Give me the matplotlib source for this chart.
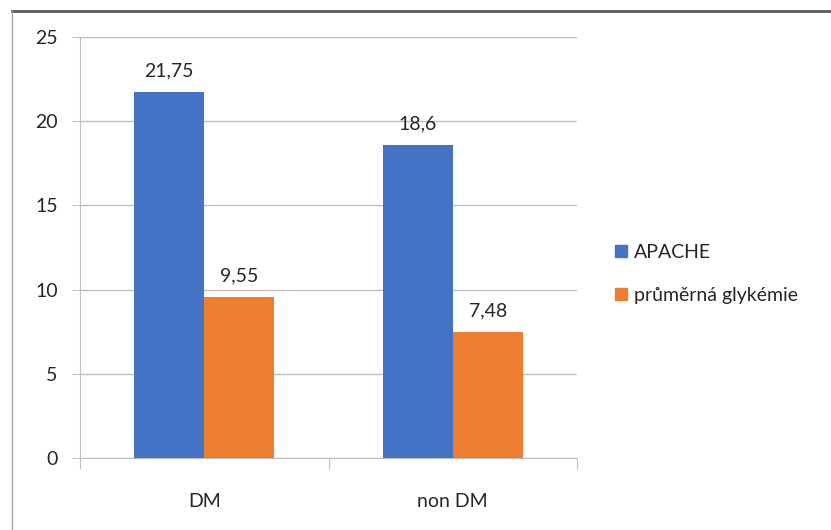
import matplotlib.pyplot as plt
from matplotlib.lines import Line2D
import numpy as np

categories = ["DM", "non DM"]
series_names = ["APACHE", "průměrná glykémie"]
apache = [21.75, 18.6]
glykemie = [9.55, 7.48]
apache_labels = ["21,75", "18,6"]
glykemie_labels = ["9,55", "7,48"]
yticks = [0, 5, 10, 15, 20, 25]

blue = "#4472C4"
orange = "#ED7D31"
grid_col = "#BFBFBF"
text_col = "#262626"
fs = 14

plt.rcParams['font.family'] = ['Lato', 'DejaVu Sans']

fig = plt.figure(figsize=(8.31, 5.30), dpi=100)
ax = fig.add_axes([80 / 831, 1 - 458 / 530, 497 / 831, 421 / 530])

x = np.arange(len(categories))
w = 0.282
b1 = ax.bar(x - w / 2, apache, w, color=blue, label=series_names[0], zorder=3)
b2 = ax.bar(x + w / 2, glykemie, w, color=orange, label=series_names[1], zorder=3)

# data labels with czech decimal comma
for rect, lab in zip(b1, apache_labels):
    ax.annotate(lab, (rect.get_x() + rect.get_width() / 2, rect.get_height()),
                xytext=(0, 9), textcoords="offset points", ha="center", va="bottom",
                fontsize=fs, color=text_col)
for rect, lab in zip(b2, glykemie_labels):
    ax.annotate(lab, (rect.get_x() + rect.get_width() / 2, rect.get_height()),
                xytext=(0, 9), textcoords="offset points", ha="center", va="bottom",
                fontsize=fs, color=text_col)

ax.set_xlim(-0.5, len(categories) - 0.5)
ax.set_ylim(0, 25)
ax.set_yticks(yticks)
ax.set_yticklabels([str(t) for t in yticks], fontsize=fs, color=text_col)
ax.yaxis.grid(True, color=grid_col, linewidth=1, zorder=0)
ax.tick_params(axis="y", length=6, color=grid_col, pad=10)

# category labels between boundary ticks
ax.set_xticks(np.arange(-0.5, len(categories)), labels=[""] * (len(categories) + 1))
ax.tick_params(axis="x", length=8, color=grid_col)
ax.set_xticks(x, labels=categories, minor=True)
ax.tick_params(axis="x", which="minor", length=0, pad=25, labelsize=fs, labelcolor=text_col)

for s in ["top", "right"]:
    ax.spines[s].set_visible(False)
ax.spines["left"].set_color(grid_col)
ax.spines["bottom"].set_color(grid_col)

handles = [Line2D([], [], marker="s", linestyle="", markersize=9, color=blue),
           Line2D([], [], marker="s", linestyle="", markersize=9, color=orange)]
fig.legend(handles, series_names, loc="center left", bbox_to_anchor=(596 / 831, 1 - 274 / 530),
           frameon=False, fontsize=fs, handlelength=0.8, handletextpad=0.25,
           labelspacing=1.35, labelcolor=text_col)

# frame of the screenshot
fig.add_artist(Line2D([12 / 831, 1], [1 - 11 / 530] * 2, color="#595959", linewidth=2))
fig.add_artist(Line2D([12 / 831] * 2, [0, 1 - 11 / 530], color="#A6A6A6", linewidth=1))

fig.savefig("out.png", dpi=100)
